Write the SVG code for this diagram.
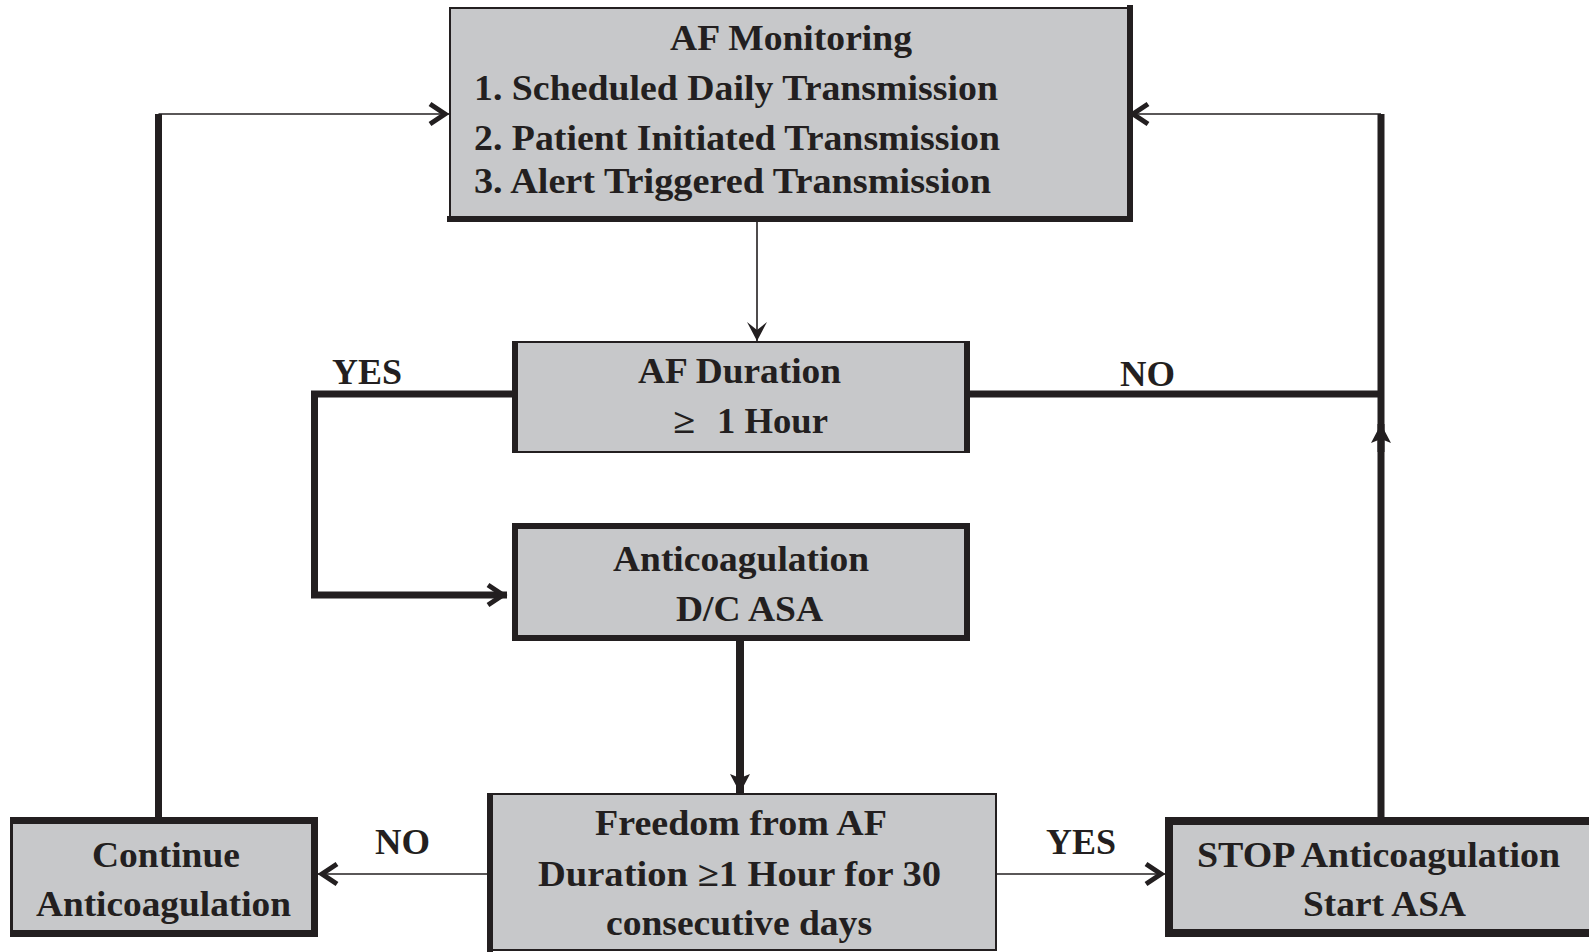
<svg xmlns="http://www.w3.org/2000/svg" width="1589" height="952" viewBox="0 0 1589 952">
<defs>
<style>
.bg{fill:#ffffff}
.box{fill:#c7c8ca;stroke:#231f20;stroke-width:2}
.edge{fill:none;stroke:#231f20;stroke-width:6;stroke-linecap:square}
.thin{fill:none;stroke:#231f20;stroke-width:1.6}
.thick{fill:none;stroke:#231f20;stroke-width:7;stroke-linejoin:miter}
text{font-family:"Liberation Serif","Times New Roman",serif;font-weight:bold;font-size:35px;fill:#231f20}
</style>
<marker id="chev" markerUnits="userSpaceOnUse" viewBox="0 0 26 26" refX="22" refY="13" markerWidth="26" markerHeight="26" orient="auto" overflow="visible">
<path d="M3,3 L18,13 L3,23" fill="none" stroke="#231f20" stroke-width="5" stroke-linejoin="miter"/>
</marker>
<marker id="vee" markerUnits="userSpaceOnUse" viewBox="0 0 20 22" refX="19" refY="11" markerWidth="20" markerHeight="22" orient="auto" overflow="visible">
<path d="M0,1 L19,11 L0,21 L8,11 Z" fill="#231f20"/>
</marker>
<marker id="solid" markerUnits="userSpaceOnUse" viewBox="0 0 20 22" refX="19" refY="11" markerWidth="20" markerHeight="22" orient="auto" overflow="visible">
<path d="M0,1 L19,11 L0,21 L4,11 Z" fill="#231f20"/>
</marker>
</defs>
<rect class="bg" x="0" y="0" width="1589" height="952"/>

<g id="connectors">
<path class="thin" d="M757,222 V341" marker-end="url(#vee)"/>
<path class="thick" d="M512,394 H314.5 V595 H507" marker-end="url(#chev)"/>
<path class="thick" d="M970,394 H1381"/>
<path class="thick" d="M1381,817 V114"/>
<path class="thick" d="M1381,452 V424" marker-end="url(#solid)"/>
<path class="thin" d="M1381,114 H1129" marker-end="url(#chev)"/>
<path class="thick" d="M158.5,817 V114"/>
<path class="thin" d="M158.5,114 H449" marker-end="url(#chev)"/>
<path class="thick" style="stroke-width:8" d="M740,641 V793" marker-end="url(#solid)"/>
<path class="thin" d="M487,874 H318" marker-end="url(#chev)"/>
<path class="thin" d="M996,874 H1165" marker-end="url(#chev)"/>
<text x="332" y="384" textLength="70" lengthAdjust="spacingAndGlyphs">YES</text>
<text x="1120" y="386" textLength="55" lengthAdjust="spacingAndGlyphs">NO</text>
<text x="375" y="854" textLength="55" lengthAdjust="spacingAndGlyphs">NO</text>
<text x="1046" y="854" textLength="70" lengthAdjust="spacingAndGlyphs">YES</text>
</g>

<g id="af-monitoring">
<rect class="box" x="450" y="8" width="680" height="211"/>
<path class="edge" d="M1130,8 V219 H450"/>
<text x="670" y="50" textLength="242" lengthAdjust="spacingAndGlyphs">AF Monitoring</text>
<text x="474" y="100" textLength="524" lengthAdjust="spacingAndGlyphs">1. Scheduled Daily Transmission</text>
<text x="474" y="150" textLength="526" lengthAdjust="spacingAndGlyphs">2. Patient Initiated Transmission</text>
<text x="474" y="193" textLength="517" lengthAdjust="spacingAndGlyphs">3. Alert Triggered Transmission</text>
</g>

<g id="af-duration">
<rect class="box" x="514" y="342" width="454" height="110"/>
<path class="edge" d="M515,341 V453 M967,341 V453" style="stroke-linecap:butt"/>
<text x="638" y="383" textLength="203" lengthAdjust="spacingAndGlyphs">AF Duration</text>
<text x="673" y="433" textLength="22" lengthAdjust="spacingAndGlyphs">≥</text>
<text x="717" y="433" textLength="111" lengthAdjust="spacingAndGlyphs">1 Hour</text>
</g>

<g id="anticoagulation">
<rect class="box" x="515" y="526" width="452" height="112" style="stroke-width:6"/>
<text x="613" y="571" textLength="256" lengthAdjust="spacingAndGlyphs">Anticoagulation</text>
<text x="676" y="621" textLength="147" lengthAdjust="spacingAndGlyphs">D/C ASA</text>
</g>

<g id="freedom">
<rect class="box" x="489" y="794" width="507" height="156"/>
<path class="edge" d="M490,793 V952" style="stroke-linecap:butt"/>
<text x="595" y="835" textLength="292" lengthAdjust="spacingAndGlyphs">Freedom from AF</text>
<text x="538" y="886" textLength="403" lengthAdjust="spacingAndGlyphs">Duration ≥1 Hour for 30</text>
<text x="606" y="935" textLength="266" lengthAdjust="spacingAndGlyphs">consecutive days</text>
</g>

<g id="continue">
<rect class="box" x="11.5" y="820" width="303" height="114" style="stroke-width:3"/>
<path class="edge" d="M10,820.5 H314.5 V933.5 H10" style="stroke-width:7;stroke-linecap:butt"/>
<text x="92" y="867" textLength="148" lengthAdjust="spacingAndGlyphs">Continue</text>
<text x="36" y="916" textLength="255" lengthAdjust="spacingAndGlyphs">Anticoagulation</text>
</g>

<g id="stop">
<rect class="box" x="1169" y="821" width="500" height="112" style="stroke-width:8"/>
<text x="1197" y="867" textLength="363" lengthAdjust="spacingAndGlyphs">STOP Anticoagulation</text>
<text x="1303" y="916" textLength="163" lengthAdjust="spacingAndGlyphs">Start ASA</text>
</g>
</svg>
